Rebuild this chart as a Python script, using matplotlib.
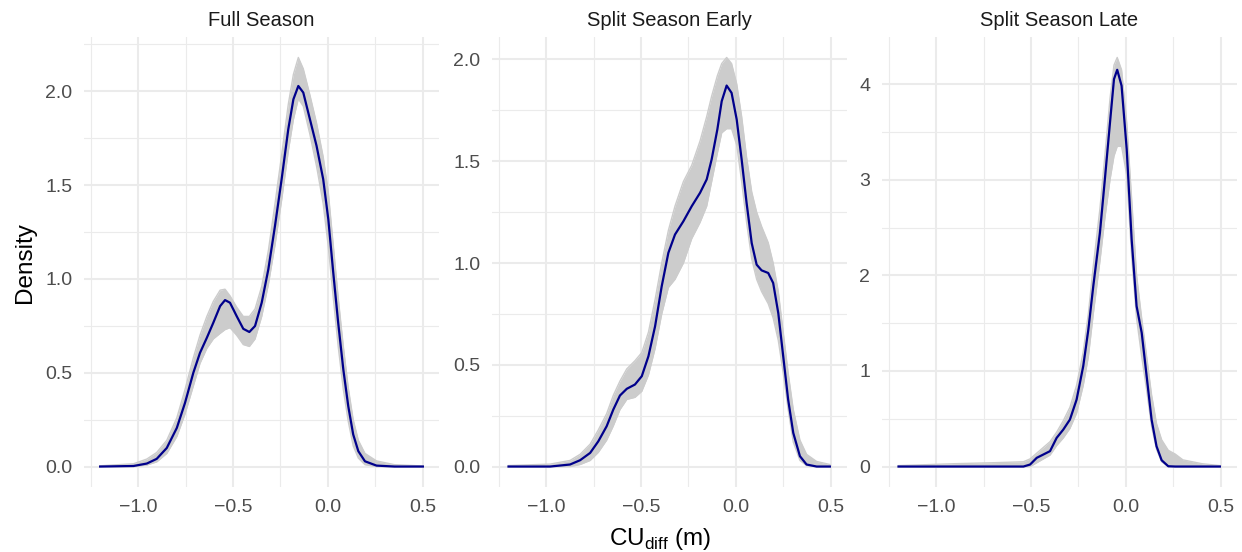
import numpy as np
import matplotlib
matplotlib.use("Agg")
import matplotlib.pyplot as plt

plt.rcParams['font.family'] = ['Liberation Sans', 'DejaVu Sans']
plt.rcParams['mathtext.fontset'] = 'custom'
plt.rcParams['mathtext.rm'] = 'Liberation Sans'

# panel titles
panels = ["Full Season", "Split Season Early", "Split Season Late"]

# Full Season: observed density and the spread (upper / lower) of the replicated densities
x_full = [-1.2, -1.024, -0.954, -0.902, -0.849, -0.796, -0.753, -0.709, -0.674, -0.638,
          -0.604, -0.568, -0.542, -0.516, -0.481, -0.446, -0.414, -0.384, -0.349, -0.314,
          -0.279, -0.244, -0.209, -0.182, -0.156, -0.130, -0.095, -0.060, -0.025, 0.002,
          0.028, 0.054, 0.081, 0.107, 0.133, 0.160, 0.195, 0.256, 0.35, 0.5]
obs_full = [0, 0.003, 0.016, 0.041, 0.099, 0.206, 0.339, 0.5, 0.606, 0.686,
            0.766, 0.855, 0.887, 0.873, 0.802, 0.734, 0.717, 0.749, 0.873, 1.051,
            1.282, 1.531, 1.797, 1.957, 2.028, 1.993, 1.851, 1.709, 1.531, 1.317,
            1.033, 0.766, 0.517, 0.322, 0.171, 0.082, 0.028, 0.005, 0, 0]
hi_full = [0.004, 0.015, 0.04, 0.075, 0.14, 0.26, 0.41, 0.58, 0.7, 0.8,
           0.88, 0.94, 0.945, 0.91, 0.85, 0.8, 0.8, 0.84, 0.96, 1.15,
           1.4, 1.66, 1.93, 2.09, 2.18, 2.12, 1.98, 1.83, 1.65, 1.46,
           1.18, 0.9, 0.64, 0.42, 0.25, 0.14, 0.07, 0.03, 0.01, 0.003]
lo_full = [0, 0, 0.008, 0.025, 0.07, 0.16, 0.28, 0.43, 0.55, 0.63,
           0.68, 0.71, 0.73, 0.74, 0.7, 0.65, 0.64, 0.68, 0.8, 0.97,
           1.18, 1.42, 1.68, 1.85, 1.96, 1.92, 1.77, 1.6, 1.4, 1.17,
           0.9, 0.64, 0.41, 0.24, 0.11, 0.045, 0.01, 0, 0, 0]

# Split Season Early
x_early = [-1.198, -0.979, -0.874, -0.821, -0.768, -0.725, -0.681, -0.646, -0.611, -0.575,
           -0.532, -0.496, -0.461, -0.426, -0.391, -0.356, -0.321, -0.277, -0.233, -0.189,
           -0.154, -0.128, -0.098, -0.075, -0.049, -0.023, 0.004, 0.030, 0.056, 0.083,
           0.109, 0.135, 0.170, 0.196, 0.223, 0.249, 0.275, 0.302, 0.337, 0.372,
           0.425, 0.495]
obs_early = [0, 0, 0.010, 0.031, 0.067, 0.124, 0.198, 0.280, 0.349, 0.382,
             0.403, 0.444, 0.542, 0.689, 0.886, 1.050, 1.140, 1.205, 1.279, 1.345,
             1.411, 1.509, 1.656, 1.795, 1.872, 1.836, 1.705, 1.509, 1.296, 1.098,
             0.992, 0.964, 0.951, 0.902, 0.754, 0.542, 0.329, 0.165, 0.051, 0.010,
             0, 0]
hi_early = [0.005, 0.012, 0.03, 0.06, 0.11, 0.18, 0.26, 0.35, 0.42, 0.48,
            0.52, 0.56, 0.66, 0.82, 1.0, 1.16, 1.28, 1.4, 1.48, 1.6,
            1.72, 1.82, 1.92, 1.98, 2.01, 1.98, 1.88, 1.72, 1.52, 1.35,
            1.25, 1.18, 1.1, 1.0, 0.86, 0.66, 0.46, 0.28, 0.13, 0.06,
            0.025, 0.01]
lo_early = [0, 0, 0, 0.01, 0.03, 0.07, 0.13, 0.2, 0.28, 0.33,
            0.34, 0.37, 0.45, 0.58, 0.75, 0.88, 0.92, 1.0, 1.12, 1.2,
            1.28, 1.4, 1.54, 1.64, 1.66, 1.66, 1.58, 1.4, 1.2, 1.02,
            0.92, 0.86, 0.8, 0.73, 0.62, 0.46, 0.28, 0.12, 0.03, 0.005,
            0, 0]

# Split Season Late
x_late = [-1.198, -0.9, -0.7, -0.540, -0.505, -0.470, -0.435, -0.400, -0.365, -0.330,
          -0.295, -0.260, -0.225, -0.198, -0.172, -0.137, -0.111, -0.084, -0.063, -0.046,
          -0.023, 0.004, 0.030, 0.056, 0.083, 0.109, 0.135, 0.161, 0.188, 0.223,
          0.26, 0.3, 0.4, 0.495]
obs_late = [0, 0, 0, 0, 0.021, 0.091, 0.126, 0.161, 0.3, 0.387,
            0.492, 0.7, 1.05, 1.434, 1.888, 2.447, 3.005, 3.599, 4.053, 4.151,
            3.984, 3.32, 2.377, 1.679, 1.4, 0.946, 0.492, 0.213, 0.066, 0.003,
            0, 0, 0, 0]
hi_late = [0.01, 0.03, 0.04, 0.05, 0.08, 0.14, 0.2, 0.26, 0.36, 0.48,
           0.62, 0.85, 1.2, 1.6, 2.1, 2.7, 3.25, 3.85, 4.2, 4.28,
           4.15, 3.6, 2.8, 2.0, 1.55, 1.15, 0.75, 0.45, 0.28, 0.17,
           0.13, 0.07, 0.03, 0.01]
lo_late = [0, 0, 0, 0, 0, 0.04, 0.08, 0.12, 0.22, 0.3,
           0.4, 0.56, 0.85, 1.15, 1.6, 2.15, 2.6, 3.0, 3.25, 3.35,
           3.35, 3.05, 2.2, 1.55, 1.15, 0.8, 0.42, 0.18, 0.05, 0,
           0, 0, 0, 0]

xs = [x_full, x_early, x_late]
obs = [obs_full, obs_early, obs_late]
his = [hi_full, hi_early, hi_late]
los = [lo_full, lo_early, lo_late]

x_ticks = [-1.0, -0.5, 0.0, 0.5]
x_labels = ["\u22121.0", "\u22120.5", "0.0", "0.5"]
y_ticks = [[0.0, 0.5, 1.0, 1.5, 2.0], [0.0, 0.5, 1.0, 1.5, 2.0], [0, 1, 2, 3, 4]]
y_labels = [["0.0", "0.5", "1.0", "1.5", "2.0"], ["0.0", "0.5", "1.0", "1.5", "2.0"],
            ["0", "1", "2", "3", "4"]]

W, H = 1242, 552
fig = plt.figure(figsize=(W / 100, H / 100), dpi=100)

# panel left edges in pixels
lefts = [84, 492, 882]
pw = 355
top, bottom = 37, 487

grid_col = "#ebebeb"
for i in range(3):
    ax = fig.add_axes([lefts[i] / W, 1 - bottom / H, pw / W, (bottom - top) / H])
    x = np.array(xs[i])
    ax.fill_between(x, los[i], his[i], color="#cccccc", lw=0, zorder=2)
    ax.plot(x, his[i], color="#cccccc", lw=1.0, zorder=2)
    ax.plot(x, los[i], color="#cccccc", lw=1.0, zorder=2)
    ax.plot(x, obs[i], color="#00008b", lw=1.6, zorder=3)

    xmin, xmax = -1.2, 0.5
    ax.set_xlim(xmin - 0.05 * (xmax - xmin), xmax + 0.05 * (xmax - xmin))
    ymax = max(his[i])
    ax.set_ylim(-0.05 * ymax, ymax * 1.05)

    ax.set_xticks(x_ticks)
    ax.set_xticklabels(x_labels)
    ax.set_xticks([-1.25, -0.75, -0.25, 0.25], minor=True)
    ax.set_yticks(y_ticks[i])
    ax.set_yticklabels(y_labels[i])
    step = y_ticks[i][1] - y_ticks[i][0]
    ax.set_yticks(np.arange(step / 2, ymax * 1.05, step), minor=True)

    ax.grid(True, which="major", color=grid_col, lw=1.5, zorder=0)
    ax.grid(True, which="minor", color=grid_col, lw=0.8, zorder=0)
    ax.set_axisbelow(True)
    for s in ax.spines.values():
        s.set_visible(False)
    ax.tick_params(which="both", length=0, labelsize=14, labelcolor="#4d4d4d")
    ax.tick_params(axis="y", pad=8.5)
    ax.tick_params(axis="x", pad=9)

    fig.text((lefts[i] + pw / 2) / W, 1 - 26.5 / H, panels[i], ha="center", va="baseline",
             fontsize=14.5, color="#1a1a1a")

fig.text(25 / W, 1 - 262.5 / H, "Density", rotation=90, ha="center", va="center",
         fontsize=17.5, color="black")
fig.text(660 / W, 1 - 545 / H, r"CU$_{\mathrm{diff}}$ (m)", ha="center", va="baseline",
         fontsize=17.5, color="black")

fig.savefig("out.png", dpi=100)
